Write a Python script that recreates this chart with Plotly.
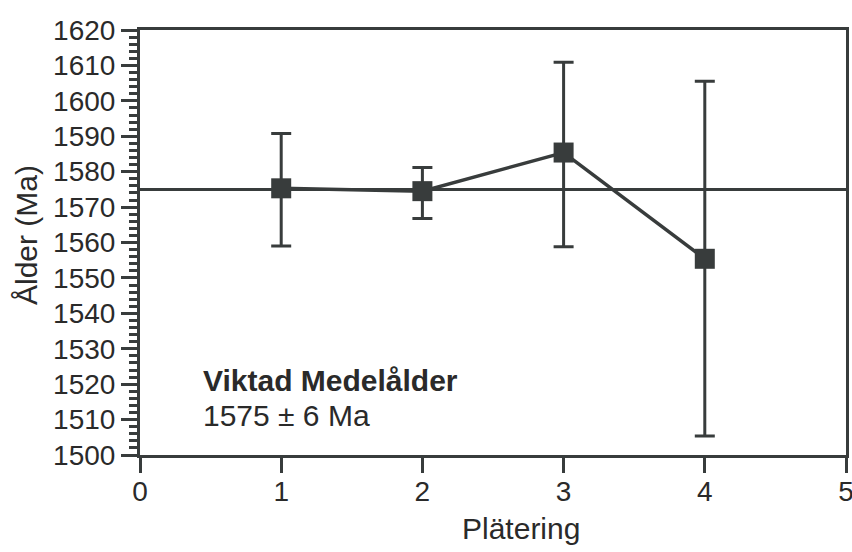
import plotly.graph_objects as go

platering = [1, 2, 3, 4]
alder = [1575.3, 1574.5, 1585.4, 1555.4]
err_plus = [15.5, 6.7, 25.5, 50.1]
err_minus = [16.3, 7.7, 26.6, 50.0]
mean_age = 1575
mean_label = "Viktad Medelålder"
mean_text = "1575 ± 6 Ma"

ink = "#383c3c"
font = "Liberation Sans, Arial, sans-serif"

W, H = 852, 552
L, T = 140, 30
PW, PH = 706, 425

fig = go.Figure()
fig.add_trace(go.Scatter(
    x=platering, y=alder,
    mode="lines+markers",
    line=dict(color=ink, width=3.5),
    marker=dict(symbol="square", size=20, color=ink),
    error_y=dict(type="data", symmetric=False, array=err_plus, arrayminus=err_minus,
                 color=ink, thickness=3, width=10),
    showlegend=False,
))

fig.add_shape(type="line", xref="paper", yref="y", x0=0, x1=1, y0=mean_age, y1=mean_age,
              line=dict(color=ink, width=3), layer="below")

fig.update_layout(
    width=W, height=H,
    margin=dict(l=L, r=W - L - PW, t=T, b=H - T - PH),
    paper_bgcolor="white", plot_bgcolor="white",
    font=dict(family=font, size=28, color="#2a2a2a"),
    xaxis=dict(range=[0, 5], dtick=1, tick0=0, showgrid=False, zeroline=False,
               showline=True, linecolor=ink, linewidth=3, mirror=True, automargin=False,
               ticks="outside", ticklen=15, tickwidth=3, tickcolor=ink,
               ticklabeloverflow="allow",
               ticklabelstandoff=-6, tickfont=dict(size=28)),
    yaxis=dict(range=[1500, 1620], dtick=10, tick0=1500, showgrid=False, zeroline=False,
               showline=True, linecolor=ink, linewidth=3, mirror=True, automargin=False,
               ticks="outside", ticklen=16, tickwidth=3, tickcolor=ink,
               tickfont=dict(size=28),
               minor=dict(dtick=2, ticks="outside", ticklen=8, tickwidth=2.5, tickcolor=ink)),
    annotations=[
        dict(text="Plätering", xref="paper", yref="paper", x=(521 - L) / PW, y=-(528 - 455) / PH,
             showarrow=False, xanchor="center", yanchor="middle", font=dict(size=30)),
        dict(text="Ålder (Ma)", xref="paper", yref="paper", x=-(L - 27) / PW, y=(455 - 235) / PH,
             showarrow=False, textangle=-90, xanchor="center", yanchor="middle", font=dict(size=30)),
        dict(text="<b>" + mean_label + "</b>", xref="paper", yref="paper", x=(201 - L) / PW,
             y=(455 - 380) / PH, showarrow=False, xanchor="left", yanchor="middle",
             font=dict(size=30)),
        dict(text=mean_text, xref="paper", yref="paper", x=(201 - L) / PW,
             y=(455 - 415) / PH, showarrow=False, xanchor="left", yanchor="middle",
             font=dict(size=30)),
    ],
)

fig.write_html("out.html", config={"displayModeBar": False},
               post_script="document.body.style.margin='0';document.body.style.overflow='hidden';")
